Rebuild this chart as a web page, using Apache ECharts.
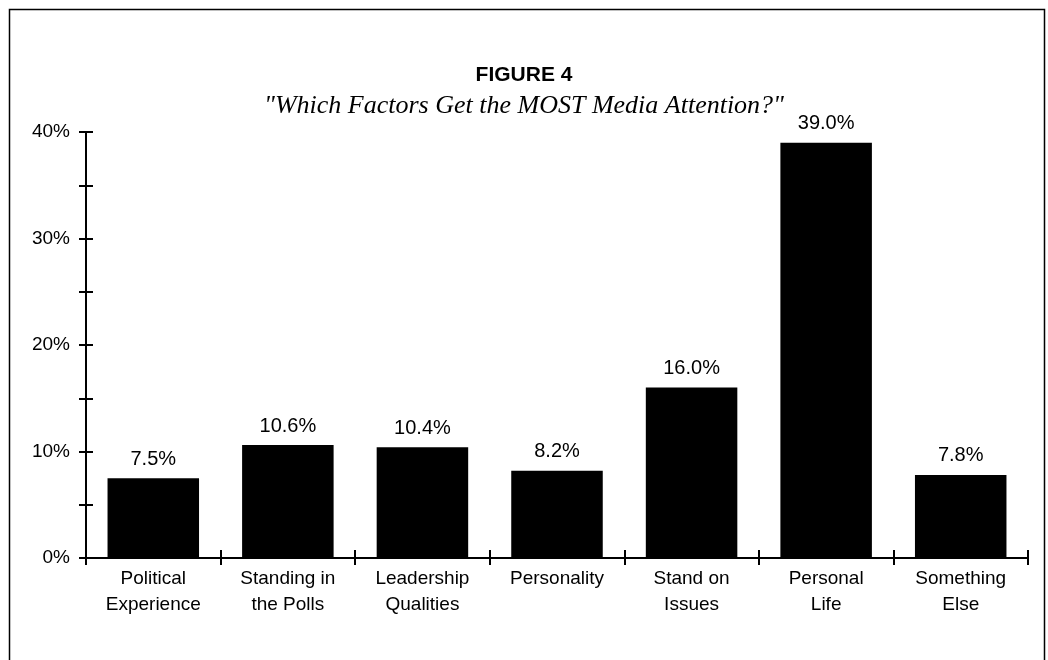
<!DOCTYPE html>
<html>
<head>
<meta charset="utf-8">
<script src="https://cdn.jsdelivr.net/npm/echarts@6/dist/echarts.min.js"></script>
<style>html,body{margin:0;padding:0;background:#fff}#c{width:1048px;height:660px}</style>
</head>
<body>
<div id="c"></div>
<script>
const categories = ['Political\nExperience', 'Standing in\nthe Polls', 'Leadership\nQualities', 'Personality', 'Stand on\nIssues', 'Personal\nLife', 'Something\nElse'];
const values = [7.5, 10.6, 10.4, 8.2, 16.0, 39.0, 7.8];
const titleText = 'FIGURE 4';
const subtitleText = '"Which Factors Get the MOST Media Attention?"';

const chart = echarts.init(document.getElementById('c'), null, {renderer: 'canvas'});
const font = 'Liberation Sans, Arial, sans-serif';
const grid = {left: 86, right: 20, top: 132, bottom: 102};
const yCommon = {type: 'value', min: 0, max: 40, interval: 5};
chart.setOption({
  animation: false,
  backgroundColor: '#fff',
  title: [
    {text: titleText, left: 'center', top: 60, textStyle: {fontFamily: font, fontWeight: 'bold', fontSize: 21, color: '#000'}},
    {text: subtitleText, left: 'center', top: 88, textStyle: {fontFamily: 'Liberation Serif, Times New Roman, serif', fontStyle: 'italic', fontWeight: 'normal', fontSize: 26, color: '#000'}}
  ],
  graphic: [{type: 'rect', shape: {x: 9.5, y: 9.5, width: 1035, height: 700}, style: {fill: 'none', stroke: '#000', lineWidth: 1.5}, silent: true}],
  grid: grid,
  xAxis: [
    {type: 'category', data: categories,
     axisLine: {lineStyle: {color: '#000', width: 2}},
     axisTick: {show: true, alignWithLabel: false, length: 7, lineStyle: {color: '#000', width: 2}},
     axisLabel: {color: '#000', fontFamily: font, fontSize: 19, lineHeight: 26, margin: 8, interval: 0},
     splitLine: {show: false}},
    {type: 'category', data: categories, position: 'bottom',
     axisLine: {show: false},
     axisTick: {show: true, inside: true, length: 8, lineStyle: {color: '#000', width: 2}},
     axisLabel: {show: false}, splitLine: {show: false}}
  ],
  yAxis: [
    Object.assign({}, yCommon, {
     axisLine: {show: true, lineStyle: {color: '#000', width: 2}},
     axisTick: {show: true, length: 7, lineStyle: {color: '#000', width: 2}},
     axisLabel: {color: '#000', fontFamily: font, fontSize: 19, margin: 16,
       formatter: v => (v % 10 === 0 ? v + '%' : '')},
     splitLine: {show: false}}),
    Object.assign({}, yCommon, {position: 'left',
     axisLine: {show: false},
     axisTick: {show: true, inside: true, length: 7, lineStyle: {color: '#000', width: 2}},
     axisLabel: {show: false}, splitLine: {show: false}})
  ],
  series: [{
    type: 'bar', data: values, barWidth: '68%',
    itemStyle: {color: '#000'},
    label: {show: true, position: 'top', distance: 9, color: '#000', fontFamily: font, fontSize: 20,
      formatter: p => p.value.toFixed(1) + '%'}
  }]
});
</script>
</body>
</html>
